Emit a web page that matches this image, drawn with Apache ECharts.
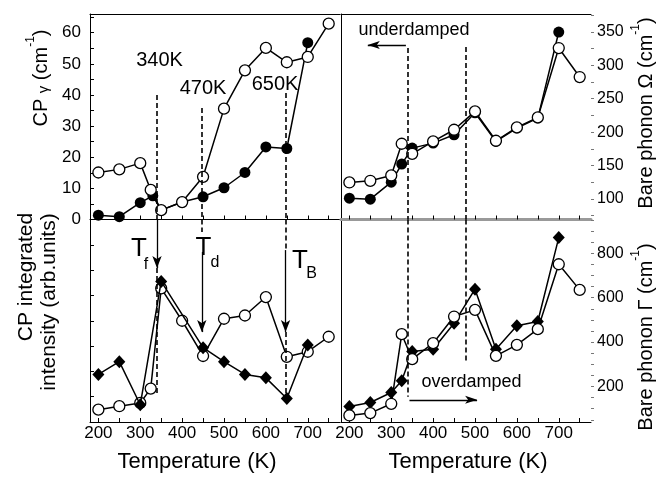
<!DOCTYPE html>
<html><head><meta charset="utf-8">
<script src="https://cdn.jsdelivr.net/npm/echarts@6.0.0/dist/echarts.min.js"></script>
<style>html,body{margin:0;padding:0;background:#fff}#c{width:665px;height:481px}</style>
</head><body><div id="c"></div>
<script>
// ---- data ----
const tempOpen = [200,250,300,325,350,400,450,500,550,600,650,700,750];
const gammaOpen = [15.1,16.1,18.1,9.5,3.0,5.6,13.7,35.6,47.9,55.1,50.5,52.2,62.9];
const tempGammaFilled = [200,250,300,330,350,400,450,500,550,600,650,700];
const gammaFilled = [1.4,0.9,5.4,7.6,3.0,5.6,7.3,10.2,15.1,23.3,22.8,56.8];

const omegaOpen = [124.5,127,135,182.5,167.5,186,203.5,231,187,207,222,326,282.5];
const tempOmegaFilled = [200,250,300,325,350,400,450,500,550,600,650,700];
const omegaFilled = [101,99.5,125,152,176,183.5,196,229,186,206,221,350];

const intensOpen = [6.1,7.8,9.4,16.5,66,50,32.6,51,52.6,61.7,32.2,34.7,42.1];
const tempIntensFilled = [200,250,300,350,450,500,550,600,650,700];
const intensFilled = [23.5,29.8,8.5,69.4,36.7,29.8,23.5,21.8,11.6,38];

const widthOpen = [69.5,80,122,435.5,323,395,515,545,338,387.5,458,750.5,635];
const tempWidthFilled = [200,250,300,325,350,400,450,500,550,600,650,700];
const widthFilled = [110,128,173,225.5,357.5,368,485,638,368,473,492.5,870.5];

const xTickLabels = [200,300,400,500,600,700];
const xTicks = [200,250,300,350,400,450,500,550,600,650,700,750];
const gammaLabels = [0,10,20,30,40,50,60];
const omegaLabels = [100,150,200,250,300,350];
const widthLabels = [200,400,600,800];

// ---- helpers ----
const pair = (xs, ys) => xs.map((x, i) => [x, ys[i]]);
const FONT = 'Liberation Sans, Arial, sans-serif';
const black = '#000';

function xAx(grid, labels, opts) {
  return Object.assign({
    type: 'value', gridIndex: grid, min: 180, max: 777, position: 'bottom',
    axisLine: { show: true, lineStyle: { color: black, width: 1 } },
    axisTick: { show: true, inside: true, length: 4, customValues: xTicks, lineStyle: { color: black } },
    axisLabel: labels ? { show: true, customValues: xTickLabels, color: black, fontSize: 17, fontFamily: FONT, margin: 3 } : { show: false },
    splitLine: { show: false }
  }, opts || {});
}
function frameX(grid) {
  return { type: 'value', gridIndex: grid, min: 180, max: 777, position: 'top',
    axisLine: { show: true, lineStyle: { color: black, width: 1 } },
    axisTick: { show: false }, axisLabel: { show: false }, splitLine: { show: false } };
}
function frameY(grid) {
  return { type: 'value', gridIndex: grid, position: 'left', min: 0, max: 1,
    axisLine: { show: true, onZero: false, lineStyle: { color: black, width: 1 } },
    axisTick: { show: false }, axisLabel: { show: false }, splitLine: { show: false } };
}

function openSeries(xi, yi, data, z) {
  return { type: 'line', xAxisIndex: xi, yAxisIndex: yi, data: data, symbol: 'circle', symbolSize: 11,
    showSymbol: true, z: z || 3, animation: false,
    lineStyle: { color: black, width: 1.5 },
    itemStyle: { color: '#fff', borderColor: black, borderWidth: 1.3 } };
}
function filledSeries(xi, yi, data, sym, z) {
  return { type: 'line', xAxisIndex: xi, yAxisIndex: yi, data: data, symbol: sym,
    symbolSize: sym === 'diamond' ? [12, 13] : 11, z: z || 2, animation: false,
    lineStyle: { color: black, width: 1.5 },
    itemStyle: { color: black, borderColor: black, borderWidth: 0 } };
}
function vline(x, y1, y2, dashed, arrow) {
  return [{ coord: [x, y1], symbol: 'none' },
          { coord: [x, y2], symbol: arrow ? 'arrow' : 'none', symbolSize: [7, 12],
            lineStyle: { type: dashed ? [5, 3] : 'solid', width: dashed ? 1.6 : 1.3, color: black } }];
}
function markLines(lines) {
  return { silent: true, symbol: ['none', 'none'], label: { show: false }, animation: false,
    lineStyle: { color: black, width: 1.6, type: [5, 3] },
    data: lines };
}
function hline(x1, x2, y) {
  return [{ coord: [x1, y], symbol: 'none' },
          { coord: [x2, y], symbol: 'arrow', symbolSize: [6, 12], lineStyle: { type: 'solid', width: 1.3, color: black } }];
}

const chart = echarts.init(document.getElementById('c'), null, { renderer: 'canvas' });

const s0o = openSeries(0, 0, pair(tempOpen, gammaOpen));
const s0f = filledSeries(0, 0, pair(tempGammaFilled, gammaFilled), 'circle');
s0f.markLine = markLines([vline(340, 40, 0, true), vline(447, 35.8, 0, true), vline(647, 40.6, 0, true)]);

const s1o = openSeries(1, 1, pair(tempOpen, intensOpen), 2);
const s1f = filledSeries(1, 1, pair(tempIntensFilled, intensFilled), 'diamond', 3);
s1f.markLine = markLines([
  vline(340, 100, 76, false, true), vline(340, 76, 14.3, true),
  vline(447, 100, 93.8, true), vline(447, 84, 44.4, false, true),
  vline(647, 100, 84.9, true), vline(647, 84.9, 44.4, false, true), vline(647, 44.4, 10.9, true)
]);

const s2o = openSeries(2, 2, pair(tempOpen, omegaOpen));
const s2f = filledSeries(2, 2, pair(tempOmegaFilled, omegaFilled), 'circle');
s2f.markLine = markLines([vline(340, 326, 69, true), vline(477, 327.7, 69, true), hline(335, 244, 330.7)]);

const s3o = openSeries(3, 3, pair(tempOpen, widthOpen));
const s3f = filledSeries(3, 3, pair(tempWidthFilled, widthFilled), 'diamond');
s3f.markLine = markLines([vline(340, 952, 154, true), vline(477, 952, 307, true), hline(343.5, 505, 140)]);

function txt(x, y, text, size, extra) {
  return Object.assign({ type: 'text', x: x, y: y, z: 100,
    style: { text: text, fontSize: size, fontFamily: FONT, fill: black, align: 'center', verticalAlign: 'middle' } }, extra || {});
}
function vtxt(x, y, text, size, rich) {
  return { type: 'text', x: x, y: y, rotation: Math.PI / 2, z: 100,
    style: { text: text, fontSize: size, fontFamily: FONT, fill: black, align: 'center', verticalAlign: 'middle', rich: rich } };
}
const richSup = {
  a: { fontSize: 20, fontFamily: FONT, fill: black, lineHeight: 26, verticalAlign: 'bottom' },
  g: { fontSize: 15, fontFamily: FONT, fill: black, lineHeight: 26, verticalAlign: 'bottom' },
  b: { fontSize: 12, fontFamily: FONT, fill: black, lineHeight: 26, verticalAlign: 'top' }
};

chart.setOption({
  animation: false,
  backgroundColor: '#fff',
  grid: [
    { left: 90, top: 14, width: 250, height: 205.5 },
    { left: 90, top: 219.5, width: 250, height: 202.5 },
    { left: 341, top: 14, width: 250, height: 205.5 },
    { left: 341, top: 219.5, width: 250, height: 202.5 }
  ],
  xAxis: [
    xAx(0, false),
    xAx(1, true),
    xAx(2, false, { axisLine: { show: true, lineStyle: { color: '#999', width: 3 } } }),
    xAx(3, true),
    frameX(0), frameX(2)
  ],
  yAxis: [
    { type: 'value', gridIndex: 0, position: 'left', min: 0, max: 66,
      axisLine: { show: true, lineStyle: { color: black } },
      axisTick: { show: true, inside: true, length: 4, customValues: [0,5,10,15,20,25,30,35,40,45,50,55,60,65], lineStyle: { color: black } },
      axisLabel: { show: true, customValues: gammaLabels, color: black, fontSize: 17, fontFamily: FONT, margin: 9 },
      splitLine: { show: false } },
    { type: 'value', gridIndex: 1, position: 'left', min: 0, max: 100, interval: 12.5,
      axisLine: { show: true, lineStyle: { color: black } },
      axisTick: { show: true, inside: true, length: 4, lineStyle: { color: black } },
      axisLabel: { show: false }, splitLine: { show: false } },
    { type: 'value', gridIndex: 2, position: 'right', min: 69, max: 377,
      axisLine: { show: false },
      axisTick: { show: true, inside: false, length: 3, customValues: [75,100,125,150,175,200,225,250,275,300,325,350,375], lineStyle: { color: '#777' } },
      axisLabel: { show: true, customValues: omegaLabels, color: black, fontSize: 16, fontFamily: FONT, margin: 6 },
      splitLine: { show: false } },
    { type: 'value', gridIndex: 3, position: 'right', min: 40, max: 952,
      axisLine: { show: false },
      axisTick: { show: true, inside: false, length: 3, customValues: [50,100,150,200,250,300,350,400,450,500,550,600,650,700,750,800,850,900,950], lineStyle: { color: '#777' } },
      axisLabel: { show: true, customValues: widthLabels, color: black, fontSize: 16, fontFamily: FONT, margin: 6 },
      splitLine: { show: false } },
    frameY(2), frameY(3)
  ],
  series: [s0f, s0o, s1o, s1f, s2f, s2o, s3f, s3o],
  graphic: [
    txt(159.5, 60, '340K', 20), txt(203, 88, '470K', 20), txt(275, 84, '650K', 20),
    txt(139, 249, 'T', 26), txt(146, 265, 'f', 16),
    txt(203.5, 247.5, 'T', 26), txt(215, 263, 'd', 16),
    txt(300, 261, 'T', 26), txt(311.5, 274, 'B', 16),
    txt(414, 30, 'underdamped', 18), txt(471.5, 382, 'overdamped', 18),
    txt(197, 462, 'Temperature (K)', 22), txt(468, 462, 'Temperature (K)', 22),
    vtxt(38, 78, '{a|CP }{g|γ}{a| (cm}{b|-1}{a|)}', 20, richSup),
    vtxt(26, 277, 'CP integrated', 21),
    vtxt(49, 302, 'intensity (arb.units)', 21),
    vtxt(643, 113, '{a|Bare phonon Ω (cm}{b|-1}{a|)}', 20, richSup),
    vtxt(643, 337, '{a|Bare phonon Γ (cm}{b|-1}{a|)}', 20, richSup)
  ]
});
</script></body></html>
